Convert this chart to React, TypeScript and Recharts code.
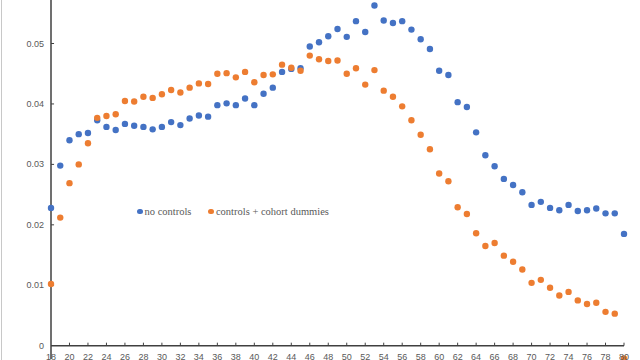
import React from "react";
import { ScatterChart, Scatter, XAxis, YAxis, ReferenceLine, Legend } from "recharts";

const ages = [18,19,20,21,22,23,24,25,26,27,28,29,30,31,32,33,34,35,36,37,38,39,40,41,42,43,44,45,46,47,48,49,50,51,52,53,54,55,56,57,58,59,60,61,62,63,64,65,66,67,68,69,70,71,72,73,74,75,76,77,78,79,80];

const noControls = [
  0.0228,0.0298,0.0340,0.0350,0.0352,0.0373,0.0362,0.0357,0.0367,0.0364,
  0.0362,0.0358,0.0362,0.0370,0.0365,0.0376,0.0381,0.0379,0.0398,0.0401,
  0.0398,0.0409,0.0398,0.0417,0.0427,0.0453,0.0458,0.0459,0.0495,0.0502,
  0.0512,0.0524,0.0511,0.0537,0.0519,0.0563,0.0538,0.0534,0.0537,0.0523,
  0.0507,0.0491,0.0455,0.0448,0.0403,0.0395,0.0353,0.0315,0.0297,0.0276,
  0.0266,0.0254,0.0233,0.0238,0.0228,0.0224,0.0233,0.0223,0.0224,0.0227,
  0.0219,0.0219,0.0185,
];

const cohortDummies = [
  0.0102,0.0212,0.0269,0.0300,0.0335,0.0377,0.0380,0.0383,0.0405,0.0404,
  0.0412,0.0410,0.0416,0.0423,0.0419,0.0427,0.0434,0.0433,0.0450,0.0451,
  0.0444,0.0453,0.0436,0.0448,0.0449,0.0465,0.0460,0.0455,0.0480,0.0474,
  0.0471,0.0472,0.0450,0.0459,0.0432,0.0456,0.0422,0.0412,0.0396,0.0373,
  0.0349,0.0325,0.0285,0.0272,0.0229,0.0218,0.0186,0.0165,0.0170,0.0149,
  0.0139,0.0126,0.0104,0.0109,0.0096,0.0083,0.0089,0.0075,0.0069,0.0071,
  0.0056,0.0053,-0.0021,
];

const xTicks = [18,20,22,24,26,28,30,32,34,36,38,40,42,44,46,48,50,52,54,56,58,60,62,64,66,68,70,72,74,76,78,80];
const yTicks = [0, 0.01, 0.02, 0.03, 0.04, 0.05];
const seriesNames = ["no controls", "controls + cohort dummies"];

const BLUE = "#4472C4";
const ORANGE = "#ED7D31";
const AXIS = "#404040";
const LABEL = "#595959";

const blueData = ages.map((a, i) => ({ x: a, y: noControls[i] }));
const orangeData = ages.map((a, i) => ({ x: a, y: cohortDummies[i] }));

const dot = (color: string) => (props: any) => (
  <circle cx={props.cx} cy={props.cy} r={3.2} fill={color} />
);

const XTick = (props: any) => (
  <text x={props.x} y={props.y} dy={1} textAnchor="middle" fontSize={9}
    fontFamily="'Liberation Sans', Arial, sans-serif" fill={LABEL}>
    {props.payload.value}
  </text>
);

const YTick = (props: any) => (
  <text x={props.x} y={props.y} dy={3} textAnchor="end" fontSize={9}
    fontFamily="'Liberation Sans', Arial, sans-serif" fill={LABEL}>
    {props.payload.value === 0 ? "0" : String(props.payload.value)}
  </text>
);

const LegendContent = () => (
  <div style={{ display: "flex", alignItems: "center", fontFamily: "'Liberation Serif', 'Times New Roman', serif", fontSize: 10.5, color: LABEL, whiteSpace: "nowrap" }}>
    <span style={{ display: "inline-block", width: 5.5, height: 5.5, borderRadius: "50%", background: BLUE, marginRight: 2 }} />
    <span style={{ marginRight: 17 }}>{seriesNames[0]}</span>
    <span style={{ display: "inline-block", width: 5.5, height: 5.5, borderRadius: "50%", background: ORANGE, marginRight: 2 }} />
    <span>{seriesNames[1]}</span>
  </div>
);

export default function App() {
  return (
    <div style={{ position: "absolute", left: 0, top: 0, width: 640, height: 360, overflow: "hidden", background: "#fff" }}>
      <div style={{ position: "absolute", left: 1, top: 0, width: 1, height: 360, background: "#c8c8c8" }} />
      <ScatterChart width={640} height={380} margin={{ top: 0, right: 16, bottom: 0, left: 0 }}>
        <XAxis type="number" dataKey="x" domain={[18, 80]} ticks={xTicks} interval={0}
          axisLine={false} tickLine={false} tickSize={0} tickMargin={0} height={21} tick={<XTick />} />
        <YAxis type="number" dataKey="y" domain={[-0.0022, 0.0572]} ticks={yTicks} interval={0}
          width={51} axisLine={{ stroke: AXIS, strokeWidth: 1.5 }} tickLine={false} tickSize={0} tickMargin={7} tick={<YTick />} />
        <ReferenceLine y={0} stroke={AXIS} strokeWidth={1.5} />
        {xTicks.filter((t) => t !== 18).map((t) => (
          <ReferenceLine key={"xt" + t} segment={[{ x: t, y: 0 }, { x: t, y: 0.0005 }]} stroke={AXIS} strokeWidth={1} />
        ))}
        {yTicks.filter((t) => t !== 0).map((t) => (
          <ReferenceLine key={"yt" + t} segment={[{ x: 18, y: t }, { x: 18.33, y: t }]} stroke={AXIS} strokeWidth={1} />
        ))}
        <Scatter name={seriesNames[0]} data={blueData} fill={BLUE} shape={dot(BLUE)} isAnimationActive={false} />
        <Scatter name={seriesNames[1]} data={orangeData} fill={ORANGE} shape={dot(ORANGE)} isAnimationActive={false} />
        <Legend layout="horizontal" verticalAlign="middle" align="center" content={<LegendContent />}
          wrapperStyle={{ position: "absolute", left: 137, top: 206, width: "auto" }} />
      </ScatterChart>
    </div>
  );
}
